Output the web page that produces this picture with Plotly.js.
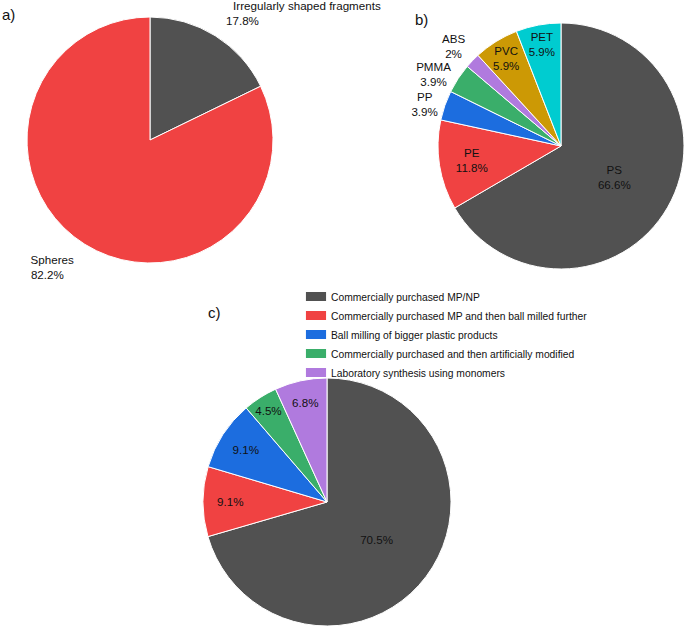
<!DOCTYPE html>
<html>
<head>
<meta charset="utf-8">
<script src="https://cdn.plot.ly/plotly-3.0.1.min.js"></script>
<style>
  body { margin: 0; background: #fff; }
  #plot { width: 685px; height: 626px; }
  /* no leader lines on the outside pie labels */
  #plot path.textline { display: none; }
  /* wide flat legend swatches like the original */
  #plot path.legendpie { transform: translate(25px, 0) scale(1.83, 0.83); }
</style>
</head>
<body>
<div id="plot"></div>
<script>
// a) particle shape
const shapeLabels = ["Irregularly shaped fragments", "Spheres"];
const shapeValues = [17.8, 82.2];

// b) polymer type
const polymerLabels = ["PS", "PE", "PP", "PMMA", "ABS", "PVC", "PET"];
const polymerValues = [66.6, 11.8, 3.9, 3.9, 2, 5.9, 5.9];

// c) source of particles
const sourceLabels = [
  "Commercially purchased MP/NP",
  "Commercially purchased MP and then ball milled further",
  "Ball milling of bigger plastic products",
  "Commercially purchased and then artificially modified",
  "Laboratory synthesis using monomers"
];
const sourceValues = [70.5, 9.1, 9.1, 4.5, 6.8];

const gray = "#515151", red = "#f04242", blue = "#1c6ddf", green = "#3aae6a",
  purple = "#b07ade", gold = "#cc9905", cyan = "#00ccd0";

const font = { family: "Liberation Sans, Arial, sans-serif", size: 11.6, color: "#111" };
const NB = "\u00a0";

// pixel box -> paper domain
const W = 685, H = 626;
function dom(x0, x1, y0, y1) {
  return { x: [x0 / W, x1 / W], y: [1 - y1 / H, 1 - y0 / H] };
}

// pie a labels: left aligned (pad the short line), pushed a bit away from the pie
const shapeText = [
  shapeLabels[0] + "<br>" + shapeValues[0] + "%" + NB.repeat(40) + "<br>" + NB,
  NB + "<br>" + shapeLabels[1] + "<br>" + shapeValues[1] + "%" + NB.repeat(3)
];

const pieA = {
  type: "pie",
  labels: shapeLabels,
  values: shapeValues,
  text: shapeText,
  sort: false,
  direction: "clockwise",
  rotation: 0,
  marker: { colors: [gray, red], line: { color: "#fff", width: 1 } },
  textinfo: "text",
  textposition: "outside",
  outsidetextfont: font,
  showlegend: false,
  hoverinfo: "label+value",
  domain: dom(27, 273, 17, 263)
};

const pieB = {
  type: "pie",
  labels: polymerLabels,
  values: polymerValues,
  sort: false,
  direction: "clockwise",
  rotation: 0,
  marker: {
    colors: [gray, red, blue, green, purple, gold, cyan],
    line: { color: "#fff", width: 1 }
  },
  texttemplate: "%{label}<br>%{value}%",
  textposition: ["inside", "inside", "outside", "outside", "outside", "inside", "inside"],
  insidetextorientation: "horizontal",
  insidetextfont: font,
  outsidetextfont: font,
  showlegend: false,
  domain: dom(438, 684, 23, 269)
};

const pieC = {
  type: "pie",
  labels: sourceLabels,
  values: sourceValues,
  sort: false,
  direction: "clockwise",
  rotation: 0,
  marker: {
    colors: [gray, red, blue, green, purple],
    line: { color: "#fff", width: 1 }
  },
  texttemplate: "%{value}%",
  textposition: "inside",
  insidetextorientation: "horizontal",
  insidetextfont: font,
  domain: dom(203, 451, 378, 626)
};

const layout = {
  width: W,
  height: H,
  margin: { l: 0, r: 0, t: 0, b: 0 },
  paper_bgcolor: "#fff",
  font: font,
  showlegend: true,
  legend: {
    x: 291 / W, y: 1 - 282 / H,
    xanchor: "left", yanchor: "top",
    font: { family: font.family, size: 10.3, color: "#111" },
    traceorder: "normal",
    bgcolor: "rgba(0,0,0,0)"
  },
  annotations: [
    { text: "a)", x: 0, y: 1 - 4 / H, xanchor: "left", yanchor: "top" },
    { text: "b)", x: 413 / W, y: 1 - 9 / H, xanchor: "left", yanchor: "top" },
    { text: "c)", x: 206 / W, y: 1 - 302 / H, xanchor: "left", yanchor: "top" }
  ].map(a => Object.assign(a, {
    xref: "paper", yref: "paper", showarrow: false,
    font: { family: font.family, size: 15, color: "#111" }
  }))
};

Plotly.newPlot("plot", [pieA, pieB, pieC], layout, { displayModeBar: false, staticPlot: true });
</script>
</body>
</html>
